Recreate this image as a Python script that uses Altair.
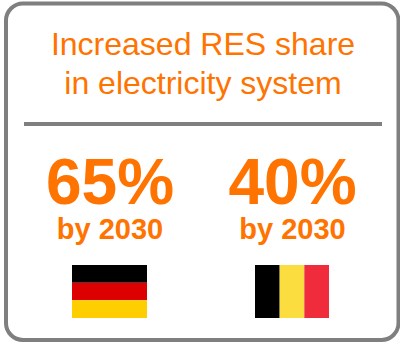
import altair as alt
import pandas as pd

W, H = 400, 343
ORANGE = "#FF7300"
GREY = "#7F7F7F"

# Content of the card
heading_lines = ["Increased RES share", "in electricity system"]
targets = ["65%", "40%"]
target_years = ["by 2030", "by 2030"]

germany_stripes = ["#000000", "#DD0000", "#FFCE00"]
belgium_stripes = ["#000000", "#FCDD40", "#EF2B3C"]

# Layout in canvas pixels
column_centres = [110, 292.5]
x_scale = alt.Scale(domain=[0, W], range=[0, W])
y_scale = alt.Scale(domain=[0, H], range=[0, H])


def flag_rows(stripes, left, right, top, bottom, horizontal):
    rows = []
    n = len(stripes)
    for i, colour in enumerate(stripes):
        if horizontal:
            step = (bottom - top) / n
            rows.append(dict(x=left, x2=right, y=top + i * step, y2=top + (i + 1) * step, c=colour))
        else:
            step = (right - left) / n
            rows.append(dict(x=left + i * step, x2=left + (i + 1) * step, y=top, y2=bottom, c=colour))
    return rows


flags = pd.DataFrame(
    flag_rows(germany_stripes, 72, 147, 265, 318, True)
    + flag_rows(belgium_stripes, 255, 329, 265, 318, False)
)

frame = (
    alt.Chart(pd.DataFrame({"x": [6], "x2": [398.5], "y": [3.5], "y2": [340]}))
    .mark_rect(fill="white", stroke=GREY, strokeWidth=4, cornerRadius=17)
    .encode(
        x=alt.X("x:Q", scale=x_scale, axis=None),
        x2="x2:Q",
        y=alt.Y("y:Q", scale=y_scale, axis=None),
        y2="y2:Q",
    )
)

divider = (
    alt.Chart(pd.DataFrame({"x": [24], "x2": [382], "y": [124]}))
    .mark_rule(color=GREY, strokeWidth=4)
    .encode(
        x=alt.X("x:Q", scale=x_scale, axis=None),
        x2="x2:Q",
        y=alt.Y("y:Q", scale=y_scale, axis=None),
    )
)

stripes = (
    alt.Chart(flags)
    .mark_rect()
    .encode(
        x=alt.X("x:Q", scale=x_scale, axis=None),
        x2="x2:Q",
        y=alt.Y("y:Q", scale=y_scale, axis=None),
        y2="y2:Q",
        color=alt.Color("c:N", scale=None),
    )
)


def text_layer(labels, xs, ys, size, weight):
    table = pd.DataFrame({"label": labels, "x": xs, "y": ys})
    return (
        alt.Chart(table)
        .mark_text(
            font="Liberation Sans",
            fontSize=size,
            fontWeight=weight,
            color=ORANGE,
            align="center",
            baseline="alphabetic",
        )
        .encode(
            x=alt.X("x:Q", scale=x_scale, axis=None),
            y=alt.Y("y:Q", scale=y_scale, axis=None),
            text="label:N",
        )
    )


heading = text_layer(heading_lines, [203, 203], [55, 94], 32, "normal")
big = text_layer(targets, column_centres, [204, 204], 64, "bold")
small = text_layer(target_years, column_centres, [239, 239], 29, "bold")

chart = (
    alt.layer(frame, divider, stripes, heading, big, small)
    .properties(
        width=W,
        height=H,
        padding=0,
        autosize=alt.AutoSizeParams(type="none"),
        background="white",
    )
    .configure_view(stroke=None)
)

chart.save("out.html", embed_options={"renderer": "svg", "actions": False})
